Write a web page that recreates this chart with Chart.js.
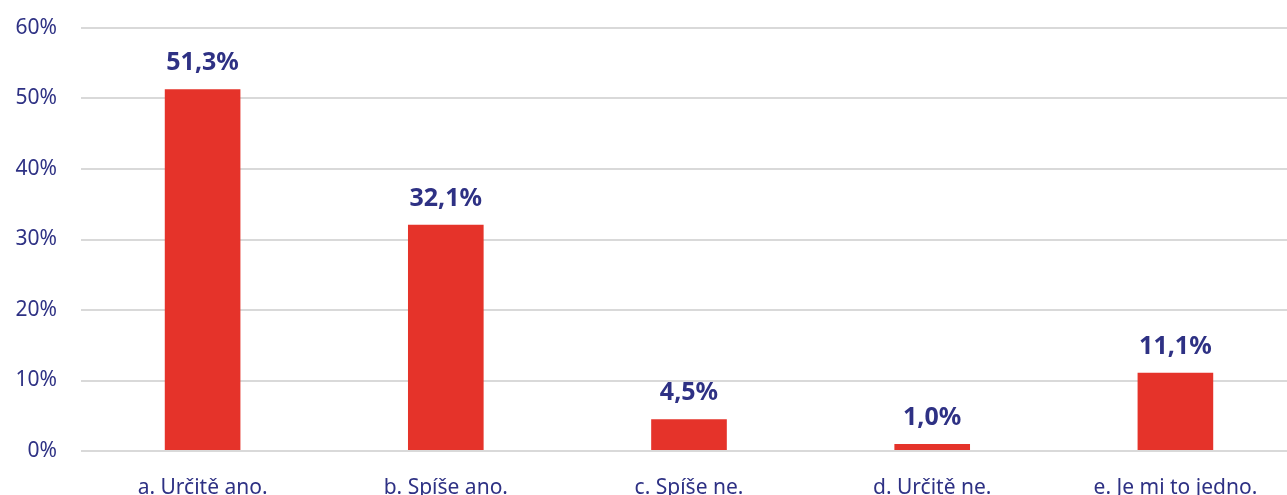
<!DOCTYPE html>
<html>
<head>
<meta charset="utf-8">
<script src="https://cdn.jsdelivr.net/npm/chart.js@4.4.0/dist/chart.umd.min.js"></script>
<style>
  html, body { margin: 0; padding: 0; background: #fff; overflow: hidden; }
  /* plot runs a little past the right edge in the original */
  #wrap { width: 1297px; height: 495px; }
</style>
</head>
<body>
<div id="wrap"><canvas id="chart"></canvas></div>
<script>
var categories = ['a. Určitě ano.', 'b. Spíše ano.', 'c. Spíše ne.', 'd. Určitě ne.', 'e. Je mi to jedno.'];
var values = [51.3, 32.1, 4.5, 1.0, 11.1];
var yTicks = [0, 10, 20, 30, 40, 50, 60];

var navy = '#2e3184';
var red = '#e5332a';

// draw the value labels above each bar
var valueLabels = {
    id: 'valueLabels',
    afterDatasetsDraw: function(chart) {
        var ctx = chart.ctx;
        var meta = chart.getDatasetMeta(0);
        ctx.save();
        ctx.font = 'bold 25px "Noto Sans"';
        ctx.fillStyle = navy;
        ctx.textAlign = 'center';
        ctx.textBaseline = 'alphabetic';
        meta.data.forEach(function(bar, i) {
            var txt = values[i].toFixed(1).replace('.', ',') + '%';
            ctx.fillText(txt, bar.x, bar.y - 19);
        });
        ctx.restore();
    }
};

new Chart(document.getElementById('chart').getContext('2d'), {
    type: 'bar',
    data: {
        labels: categories,
        datasets: [{
            data: values,
            backgroundColor: red,
            categoryPercentage: 1,
            barPercentage: 0.311
        }]
    },
    options: {
        responsive: true,
        maintainAspectRatio: false,
        animation: false,
        layout: { padding: { top: 28, right: 0, left: 0, bottom: 0 } },
        plugins: {
            legend: { display: false },
            tooltip: { enabled: false }
        },
        scales: {
            x: {
                grid: { display: false },
                border: { display: false },
                ticks: {
                    color: navy,
                    font: { family: 'Noto Sans', size: 21 },
                    padding: 16,
                    maxRotation: 0
                },
                afterFit: function(scale) {
                    scale.height = 44;
                    scale.paddingLeft = 0;
                    scale.paddingRight = 0;
                }
            },
            y: {
                min: 0,
                max: 60,
                afterBuildTicks: function(scale) {
                    scale.ticks = yTicks.map(function(v) { return { value: v }; });
                },
                grid: { color: '#d9d9d9', lineWidth: 2, drawTicks: false },
                border: { display: false },
                ticks: {
                    color: navy,
                    font: { family: 'Noto Sans', size: 21 },
                    padding: 24,
                    callback: function(v) { return v + '%'; }
                },
                afterFit: function(scale) {
                    scale.width = 81;
                    scale.paddingTop = 0;
                    scale.paddingBottom = 0;
                }
            }
        }
    },
    plugins: [valueLabels]
});
</script>
</body>
</html>
